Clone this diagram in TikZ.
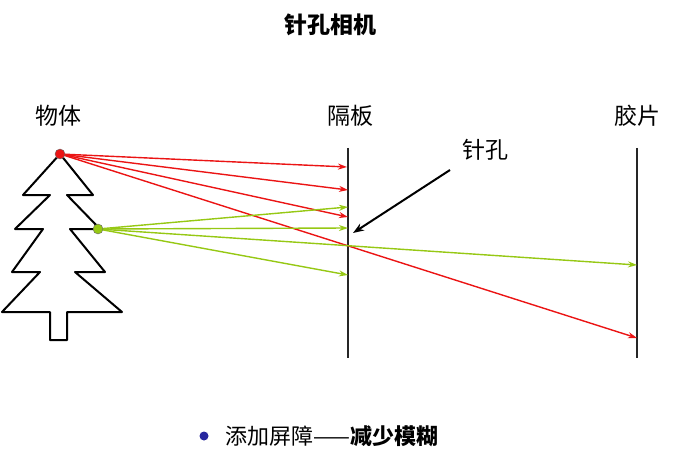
\documentclass[tikz,border=0pt]{standalone}
\usepackage{fontspec}
\setmainfont{Noto Sans CJK SC}
\usetikzlibrary{arrows.meta}
\definecolor{rr}{RGB}{235,20,20}
\definecolor{gg}{RGB}{150,200,20}
\tikzset{ray/.style={line width=1.4pt,-{Stealth[length=9pt,width=6pt]}},
 lbl/.style={font=\fontsize{23}{23}\selectfont},
 wall/.style={line width=2.6pt,black!85}}
\begin{document}
\begin{tikzpicture}[x=1pt,y=-1pt]
\useasboundingbox (0,0) rectangle (676,473);
\node[font=\bfseries\fontsize{23}{23}\selectfont] (title) at (330,25) {针孔相机};
\node[lbl] (obj) at (58,116) {物体};
\node[lbl] (bar) at (350,116) {隔板};
\node[lbl] (film) at (637,116) {胶片};
\node[lbl] (hole) at (485,150) {针孔};
% tree
\draw[line width=2pt,line join=round] (60,154) -- (23,195) -- (50,195) -- (15,229) -- (43,229) -- (12,272) -- (40,272) -- (2,312) -- (50,312) -- (50,340) -- (67,340) -- (67,312) -- (122,312) -- (75,272) -- (105,272) -- (70,229) -- (100,229) -- (67,195) -- (93,195) -- cycle;
% walls
\coordinate (b1) at (348,148); \coordinate (b2) at (348,358);
\coordinate (f1) at (637,148); \coordinate (f2) at (637,358);
\draw[wall] (b1) -- (b2);
\draw[wall] (f1) -- (f2);
\coordinate (R) at (60,154); \coordinate (G) at (98,229);
\coordinate (r1) at (347,167); \coordinate (r2) at (348,190); \coordinate (r3) at (348,217); \coordinate (r4) at (637,338);
\coordinate (g1) at (348,207); \coordinate (g2) at (348,228); \coordinate (g3) at (348,275); \coordinate (g4) at (637,265);
\foreach \e in {r1,r2,r3,r4} \draw[ray,rr] (R) -- (\e);
\foreach \e in {g1,g2,g3,g4} \draw[ray,gg] (G) -- (\e);
\fill[rr] (R) circle (5pt); \draw[black!60,line width=0.4pt] (R) circle (5pt);
\fill[gg] (G) circle (5pt); \draw[black!60,line width=0.4pt] (G) circle (5pt);
\coordinate (hp) at (353,233);
\draw[line width=2pt,-{Stealth[length=11pt,width=8pt]}] (450,170) -- (hp);
% bottom
\fill[blue!55!black!85] (204,436) circle (4.5pt);
\node[anchor=west,font=\fontsize{22}{22}\selectfont] (note) at (222,436) {添加屏障——\textbf{减少模糊}};
\end{tikzpicture}
\end{document}
